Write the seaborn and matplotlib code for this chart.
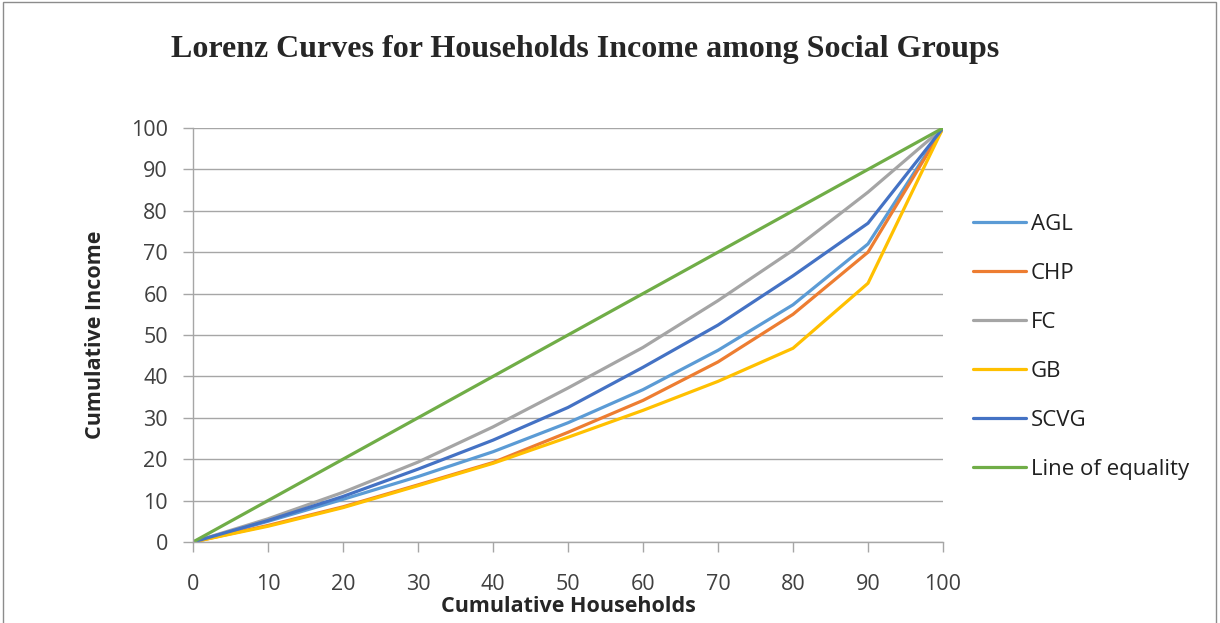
import pandas as pd
import seaborn as sns
import matplotlib.pyplot as plt
from matplotlib.patches import Rectangle

# --- data ---
households = [0, 10, 20, 30, 40, 50, 60, 70, 80, 90, 100]
agl = [0, 5.0, 10.3, 15.8, 21.8, 28.8, 36.8, 46.3, 57.3, 72.0, 100]
chp = [0, 4.0, 8.5, 13.8, 19.2, 26.5, 34.2, 43.5, 55.0, 70.0, 100]
fc = [0, 5.6, 12.0, 19.3, 27.8, 37.2, 47.0, 58.3, 70.5, 84.5, 100]
gb = [0, 3.8, 8.3, 13.6, 19.0, 25.3, 31.8, 38.8, 46.8, 62.5, 100]
scvg = [0, 5.2, 11.0, 17.6, 24.6, 32.5, 42.2, 52.4, 64.3, 77.0, 100]
equality = [0, 10, 20, 30, 40, 50, 60, 70, 80, 90, 100]

groups = ['AGL', 'CHP', 'FC', 'GB', 'SCVG', 'Line of equality']
colors = ['#5B9BD5', '#ED7D31', '#A5A5A5', '#FFC000', '#4472C4', '#70AD47']

series = [agl, chp, fc, gb, scvg, equality]
df = pd.concat([
    pd.DataFrame({'Households': households, 'Income': vals, 'Group': name})
    for name, vals in zip(groups, series)
], ignore_index=True)

sns.set_theme(style="white")
plt.rcParams['font.family'] = ['Open Sans', 'DejaVu Sans']

fig = plt.figure(figsize=(12.2, 6.23), dpi=100)
ax = fig.add_axes([193 / 1220, 1 - 542 / 623, 750 / 1220, 414 / 623])

sns.lineplot(data=df, x='Households', y='Income', hue='Group', hue_order=groups,
             palette=dict(zip(groups, colors)), linewidth=2.3, ax=ax, legend=False)

ax.set_xlim(0, 100)
ax.set_ylim(0, 100)
ax.set_xticks(range(0, 101, 10))
ax.set_yticks(range(0, 101, 10))
ax.yaxis.grid(True, color='#a6a6a6', linewidth=1)
ax.xaxis.grid(False)
ax.set_axisbelow(True)

for s in ['top', 'right']:
    ax.spines[s].set_visible(False)
for s in ['left', 'bottom']:
    ax.spines[s].set_color('#a6a6a6')
    ax.spines[s].set_linewidth(1)

ax.tick_params(axis='x', bottom=True, direction='out', length=7, width=1,
               color='#a6a6a6', pad=16, labelsize=15.5, labelcolor='#404040')
ax.tick_params(axis='y', left=True, direction='out', length=7, width=1,
               color='#a6a6a6', pad=11, labelsize=15.5, labelcolor='#404040')

ax.set_xlabel('Cumulative Households', fontsize=15.5, fontweight='bold', labelpad=1)
ax.set_ylabel('Cumulative Income', fontsize=15.5, fontweight='bold', labelpad=18)

# legend to the right
handles = [plt.Line2D([], [], color=c, linewidth=2.3) for c in colors]
fig.legend(handles, groups, loc='upper left', bbox_to_anchor=(953 / 1220, 1 - 194 / 623),
           frameon=False, fontsize=16, handlelength=2.4, handletextpad=0.2,
           labelspacing=1.26, labelcolor='#202020')

fig.text(585 / 1220, 1 - 50 / 623, 'Lorenz Curves for Households Income among Social Groups',
         ha='center', va='center', fontsize=23, fontweight='bold',
         family=['Liberation Serif', 'DejaVu Serif'])

# chart border
fig.patches.append(Rectangle((3 / 1220, -0.05), 1213 / 1220, 1.05 - 2 / 623,
                             transform=fig.transFigure, fill=False,
                             edgecolor='#8c8c8c', linewidth=1))

fig.savefig('out.png', dpi=100)
